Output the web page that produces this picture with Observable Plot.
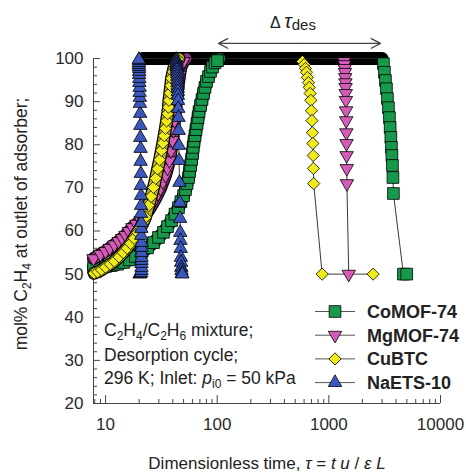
<!DOCTYPE html>
<html><head><meta charset="utf-8">
<script src="https://cdn.jsdelivr.net/npm/d3@7"></script>
<script src="https://cdn.jsdelivr.net/npm/@observablehq/plot@0.6"></script>
<style>body{margin:0;background:#fff} svg{display:block} text{white-space:pre}</style>
</head><body><div id="chart"></div>
<script>
// ---- series meta ----
const seriesNames = ["CoMOF-74", "MgMOF-74", "CuBTC", "NaETS-10"];
const seriesColors = ["#17994c", "#d45cb6", "#f0ec1c", "#3b59bd"];
const ribbonColors = ["#127a3c", "#8a3a80", "#b9b41a", null];
const seriesSymbols = ["square", "triangle", "diamond2", "triangle"];
const seriesRotate = [0, 180, 0, 0];
const seriesR = [6.6, 5.0, 5.5, 5.0];

// ---- CoMOF-74 ----
const coTau = [7.8,8.8,10.0,11.3,12.8,14.5,16.4,18.5,21.0,23.8,26.9,29.8,33.0,35.9,39.0,41.9,45.0,47.3,50.0,52.0,53.7,55.4,56.5,57.8,59.0,60.1,60.9,62.0,63.3,64.6,66.0,67.4,68.8,70.9,73.1,75.4,77.7,80.2,83.6,87.1,90.8,95.6,100.6,106,3000,3083,3147,3213,3280,3347,3417,3488,3540,3590,3635,3670,3711,3750,3787,4656,4983];
const coVal = [51.5,51.6,51.8,52.0,52.3,52.7,53.3,54.1,55.0,56.1,57.3,58.5,59.7,61.0,62.4,63.9,65.4,66.8,68.2,69.6,71.0,72.4,73.8,75.2,76.6,78.0,79.4,80.8,82.1,83.5,84.9,86.3,87.7,89.1,90.5,91.9,93.3,94.7,95.8,97.0,98.0,99.0,99.5,100,100,98.8,96.8,94.9,93.0,90.7,88.6,86.3,84.0,81.7,79.4,77.5,75.2,72.4,68.7,50,50];

// ---- MgMOF-74 ----
const mgTau = [7.8,9.0,10.0,10.9,12.0,13.1,14.1,15.1,16.2,17.4,18.9,20.6,22.4,24.3,26.1,28.0,29.5,31.1,32.7,34.4,35.9,37.3,38.6,39.8,40.6,41.5,42.3,43.2,44.1,45.0,46.0,46.9,48.4,50.0,53,1330,1370,1380,1388,1395,1401,1407,1412,1417,1422,1427,1431,1435,1439,1443,1447,1451,1507];
const mgVal = [53.6,54.6,55.3,56.0,56.8,57.6,58.3,59.0,59.9,60.8,61.6,62.4,63.6,64.8,66.1,67.5,68.7,69.9,71.4,72.9,74.6,76.3,78.6,81.0,83.3,85.6,88.0,90.3,92.4,94.4,96.1,97.7,98.6,99.3,100,100,99.3,98.6,97.7,96.8,95.6,94.4,93.3,91.9,90.3,87.9,85.6,82.8,80.3,77.5,74.5,71.0,50];

// ---- CuBTC ----
const cuTau = [7.9,8.5,9.2,10.0,11.0,12.0,13.2,14.4,15.6,16.8,18.0,19.4,20.6,21.7,22.8,24.3,25.6,26.9,28.1,29.3,30.5,31.7,32.6,33.5,34.4,35.2,36.0,36.6,37.0,37.7,38.4,39.0,40.2,41.5,42.8,44.2,45.5,560,580,603,617,630,643,656,668,680,690,698,706,713,719,724,728,732,871,2493];
const cuVal = [50.2,50.5,51.0,51.6,52.3,53.0,54.0,55.0,56.0,57.1,58.3,59.6,60.8,62.0,63.2,65.9,68.0,70.1,72.2,74.4,76.5,78.7,80.4,82.1,83.8,85.5,87.2,88.7,90.3,92.0,93.7,95.4,96.9,98.4,99.3,99.8,100,100,99.3,98.6,97.7,96.8,95.6,94.4,93.3,91.9,90.3,87.9,85.6,82.8,80.3,77.5,74.5,71.0,50,50];

// ---- NaETS-10 ----
const naTau = [20.2,20.5,20.8,21.0,21.0,21.0,21.0,21.0,21.0,21.0,21.0,20.9,20.9,20.9,20.8,20.8,20.8,20.7,20.7,20.6,20.6,20.5,20.5,20.4,20.3,20.3,20.2,20.2,20.1,20.1,20.0,20.0,20.0,19.9,19.9,19.9,19.9,19.9,21.5,42.5,43.0,43.2,43.3,43.4,43.5,43.6,43.7,43.8,43.9,44.0,44.1,44.2,44.3,44.4,44.5,44.6,44.8,45.0,45.2,45.4,45.6,45.9,46.2,46.5,46.7,46.9,47.1,47.3,47.5,47.7,47.9,48.2,48.7];
const naVal = [50.0,50.1,50.3,50.84,51.54,52.46,53.16,53.86,55.01,56.17,57.33,58.96,60.58,61.97,64.06,65.91,68.23,70.55,73.33,76.12,79.13,81.68,84.46,87.25,89.57,90.96,92.12,93.28,94.43,95.36,96.29,96.99,97.68,98.14,98.61,99.07,99.54,99.77,100,100,99.77,99.54,99.07,98.61,98.14,97.68,97.22,96.52,95.83,95.13,94.43,93.74,93.04,92.35,91.42,90.26,88.41,86.32,83.30,79.83,76.35,71.25,66.61,62.90,59.65,57.80,55.94,53.86,52.70,51.54,50.84,50.14,50.0];

// ---- axes ----
const xDomain = [7.8, 10000];
const yDomain = [20, 100];
const xTicks = [10, 100, 1000, 10000];
const xMinorTicks = [8,9,20,30,40,50,60,70,80,90,200,300,400,500,600,700,800,900,2000,3000,4000,5000,6000,7000,8000,9000];
const yTicks = [20, 30, 40, 50, 60, 70, 80, 90, 100];
const yMinorTicks = [22,24,26,28,32,34,36,38,42,44,46,48,52,54,56,58,62,64,66,68,72,74,76,78,82,84,86,88,92,94,96,98];

// ---- Δτ_des arrow ----
const arrowSpan = [102.7, 2900];
const arrowLevel = 103.5;

const tauLists = [coTau, mgTau, cuTau, naTau];
const valLists = [coVal, mgVal, cuVal, naVal];
const rows = seriesNames.flatMap((s, i) => tauLists[i].map((t, j) => ({series: s, tau: t, val: valLists[i][j], idx: j})));
// rising branch (before the plateau) of each series
const risingRows = rows.filter(d => {
  const i = seriesNames.indexOf(d.series);
  return ribbonColors[i] && d.idx <= valLists[i].indexOf(100);
});

const FONT = "'Liberation Sans', Arial, Helvetica, sans-serif";
const AX = "#444";
const arrowMid = Math.sqrt(arrowSpan[0] * arrowSpan[1]);

const plot = Plot.plot({
  width: 466, height: 473,
  marginLeft: 93, marginRight: 26, marginTop: 58, marginBottom: 70,
  x: {type: "log", domain: xDomain, label: null},
  y: {domain: yDomain, label: null},
  style: {fontFamily: FONT, background: "#fff", color: "#222"},
  marks: [
    Plot.ruleX([xDomain[0]], {stroke: AX, strokeWidth: 1}),
    Plot.ruleY([yDomain[0]], {stroke: AX, strokeWidth: 1}),
    Plot.axisY({ticks: yTicks, tickSize: -7, tickPadding: 17, fontSize: 17, label: null, stroke: AX, fill: "#2a2a2a"}),
    Plot.axisY({ticks: yMinorTicks, tickSize: -4, tickFormat: () => "", label: null, stroke: AX}),
    Plot.axisX({ticks: xTicks, tickSize: -8, tickPadding: 22, fontSize: 17, tickFormat: d => String(d), label: null, stroke: AX, fill: "#2a2a2a"}),
    Plot.axisX({ticks: xMinorTicks, tickSize: -4, tickFormat: () => "", label: null, stroke: AX}),
    // dense plateau of overlapping symbols
    Plot.line(rows.filter(d => d.val >= 100), {x: "tau", y: "val", z: "series", stroke: "#000", strokeWidth: 13, strokeLinecap: "round"}),
    // connecting lines
    Plot.line(rows, {x: "tau", y: "val", z: "series", stroke: "#222", strokeWidth: 0.9}),
    // symbols, drawn series by series (dense rising branch shown as a ribbon of overlapping symbols)
    ...seriesNames.flatMap((s, i) => [
      ...(ribbonColors[i] ? [
        Plot.line(risingRows.filter(d => d.series === s), {x: "tau", y: "val", stroke: "#000", strokeWidth: 13, strokeLinejoin: "round"}),
        Plot.line(risingRows.filter(d => d.series === s), {x: "tau", y: "val", stroke: ribbonColors[i], strokeWidth: 10.5, strokeLinejoin: "round"})
      ] : []),
      Plot.dot(rows.filter(d => d.series === s && d.val < 100), {
        x: "tau", y: "val", symbol: seriesSymbols[i], rotate: seriesRotate[i], r: seriesR[i],
        fill: seriesColors[i], stroke: "#000", strokeWidth: 0.8
      })
    ]),
    // double arrow
    Plot.arrow([arrowSpan[0], arrowSpan[1]], {x1: () => arrowMid, x2: d => d, y1: arrowLevel, y2: arrowLevel,
      stroke: AX, strokeWidth: 1.3, headLength: 12, headAngle: 55})
  ]
});

document.getElementById("chart").appendChild(plot);
const svg = d3.select(plot);

function richText(x, y, parts, o) {
  const t = svg.append("text").attr("x", x).attr("y", y)
    .attr("font-family", FONT).attr("font-size", o.size).attr("fill", o.fill || "#222")
    .attr("text-anchor", o.anchor || "start");
  if (o.transform) t.attr("transform", o.transform);
  if (o.weight) t.attr("font-weight", o.weight);
  let down = 0;
  for (const p of parts) {
    const [s, kind, size] = typeof p === "string" ? [p, "n"] : p;
    const ts = t.append("tspan").text(s);
    const isSub = kind.includes("sub");
    if (kind.startsWith("i")) ts.attr("font-style", "italic");
    if (size) ts.attr("font-size", size);
    if (isSub) {
      ts.attr("font-size", o.subSize);
      if (!down) { ts.attr("dy", o.subShift); down = o.subShift; }
    } else if (down) { ts.attr("dy", -down); down = 0; }
  }
  return t;
}

// y label
richText(0, 0, ["mol% C", ["2","sub"], "H", ["4","sub"], " at outlet of adsorber;"],
  {size: "17.5px", subSize: "12px", subShift: 4, anchor: "middle", transform: "translate(27,224) rotate(-90)"});

// x label
richText(267, 469, ["Dimensionless time, ", ["τ","i"], " = ", ["t u","i"], " / ", ["ε L","i"]],
  {size: "17px", anchor: "middle"});

// in-plot annotation
const ann = {size: "17.5px", subSize: "12px", subShift: 4};
richText(104, 336, ["C", ["2","sub"], "H", ["4","sub"], "/C", ["2","sub"], "H", ["6","sub"], " mixture;"], ann);
richText(104, 361, ["Desorption cycle;"], ann);
richText(104, 384, ["296 K; Inlet: ", ["p","i"], ["i0","sub"], " = 50 kPa"], ann);

// Δτ_des
richText(270, 28, ["Δ ", ["τ","i","20px"], ["des","sub"]], {size: "16px", subSize: "15px", subShift: 2});

// legend
const legY = [311.5, 335.2, 358.9, 382.6];
seriesNames.forEach((s, i) => {
  const cy = legY[i];
  svg.append("line").attr("x1", 315).attr("x2", 355).attr("y1", cy).attr("y2", cy).attr("stroke", "#555").attr("stroke-width", 1);
  const type = {square: d3.symbolSquare, triangle: d3.symbolTriangle, diamond2: d3.symbolDiamond2}[seriesSymbols[i]];
  svg.append("path").attr("d", d3.symbol(type, seriesR[i] * seriesR[i] * Math.PI)())
    .attr("transform", `translate(335,${cy}) rotate(${seriesRotate[i]})`)
    .attr("fill", seriesColors[i]).attr("stroke", "#000").attr("stroke-width", 0.8);
  richText(367, cy + 6.5, [s], {size: "18px", weight: "bold", fill: "#222"});
});
</script>
</body></html>
